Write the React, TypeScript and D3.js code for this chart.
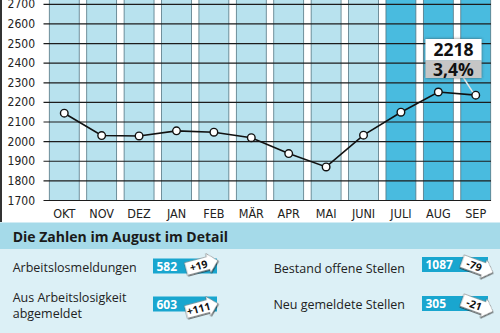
import React from "react";
import * as d3 from "d3";

const months = ["OKT", "NOV", "DEZ", "JAN", "FEB", "MÄR", "APR", "MAI", "JUNI", "JULI", "AUG", "SEP"];
const values = [2145, 2031, 2029, 2055, 2048, 2020, 1939, 1871, 2033, 2150, 2253, 2237];
const highlighted = ["JULI", "AUG", "SEP"];
const yTicks = [1700, 1800, 1900, 2000, 2100, 2200, 2300, 2400, 2500, 2600, 2700];

const calloutValue = "2218";
const calloutRate = "3,4%";

const detailTitle = "Die Zahlen im August im Detail";
const detailLabels = [["Arbeitslosmeldungen"], ["Aus Arbeitslosigkeit", "abgemeldet"], ["Bestand offene Stellen"], ["Neu gemeldete Stellen"]];
const detailValues = ["582", "603", "1087", "305"];
const detailChanges = ["+19", "+111", "-79", "-21"];

const condensed = "'Liberation Sans Narrow', 'DejaVu Sans Condensed', 'Open Sans', sans-serif";
const sans = "'Open Sans', 'Noto Sans', sans-serif";

export default function App() {
  const W = 500, H = 333;
  const y = d3.scaleLinear().domain([1700, 2700]).range([200.5, 4.3]);
  const x = d3.scaleBand<string>().domain(months).range([49.3, 490.7]).paddingInner(0.2).paddingOuter(0);
  const bw = x.bandwidth();
  const cx = (m: string) => (x(m) as number) + bw / 2;
  const line = d3.line<number>().x((_, i) => cx(months[i])).y((v) => y(v));

  const rows = [
    { lx: 12.7, anchor: "start", baselines: [271.5], box: [153, 258.5], boxW: 64, arrow: [186, 269], rot: -15 },
    { lx: 12.7, anchor: "start", baselines: [301.5, 317.5], box: [153, 296.5], boxW: 64, arrow: [186, 312], rot: -15 },
    { lx: 405, anchor: "end", baselines: [272.5], box: [422, 257], boxW: 66, arrow: [462, 261], rot: 20 },
    { lx: 405, anchor: "end", baselines: [308.5], box: [422, 296], boxW: 66, arrow: [462, 300], rot: 20 },
  ];

  const sep = months[months.length - 1];
  const sepX = cx(sep), sepY = y(values[values.length - 1]);

  return (
    <svg width={W} height={H} style={{ position: "absolute", left: 0, top: 0, background: "#fff" }}>
      <defs>
        <filter id="shadow" x="-20%" y="-20%" width="140%" height="140%">
          <feDropShadow dx="0" dy="0" stdDeviation="1.5" floodColor="#333" floodOpacity="0.7" />
        </filter>
        <filter id="ashadow" x="-20%" y="-30%" width="140%" height="160%">
          <feDropShadow dx="0.5" dy="1" stdDeviation="0.6" floodColor="#222" floodOpacity="0.8" />
        </filter>
      </defs>
      <rect x={0} y={0} width={W} height={H} fill="#fff" />
      {months.map((m) => (
        <rect
          key={m}
          x={x(m)}
          y={y(2740)}
          width={bw}
          height={y(1700) - y(2740)}
          fill={highlighted.includes(m) ? "#49bbdf" : "#b8e2ee"}
          stroke="#557784"
          strokeWidth={0.8}
        />
      ))}
      {yTicks.map((t) => (
        <line key={t} x1={43.5} x2={491} y1={y(t)} y2={y(t)} stroke="#1c1c1c" strokeWidth={1.2} />
      ))}
      {yTicks.map((t) => (
        <text key={"t" + t} x={35} y={y(t) + 4} textAnchor="end" fontFamily={condensed} fontSize={12} fill="#222">
          {t}
        </text>
      ))}
      {months.map((m) => (
        <text key={"m" + m} x={cx(m)} y={218} textAnchor="middle" fontFamily={condensed} fontSize={12.5} fill="#222">
          {m}
        </text>
      ))}
      <line x1={1} x2={1} y1={0} y2={222} stroke="#333" strokeWidth={2} />
      <path d={line(values) as string} fill="none" stroke="#111" strokeWidth={1.6} />
      {values.map((v, i) => (
        <circle key={i} cx={cx(months[i])} cy={y(v)} r={3.8} fill="#fff" stroke="#111" strokeWidth={1.4} />
      ))}
      <line x1={463} y1={77} x2={sepX - 3} y2={sepY - 3} stroke="#e8e8e8" strokeWidth={1.5} />
      <g filter="url(#shadow)">
        <rect x={425.5} y={39} width={56} height={21.5} fill="#fff" />
        <rect x={425.5} y={60.5} width={56} height={17.5} fill="#c6c6c6" />
      </g>
      <text x={453.5} y={55.5} textAnchor="middle" fontFamily={sans} fontWeight={700} fontSize={17.5} fill="#111">
        {calloutValue}
      </text>
      <text x={453.5} y={75.5} textAnchor="middle" fontFamily={sans} fontWeight={700} fontSize={17.5} fill="#111">
        {calloutRate}
      </text>
      <rect x={0} y={222.5} width={W} height={26.5} fill="#a5dae9" />
      <rect x={0} y={249} width={W} height={H - 249} fill="#dcf0f6" />
      <text x={12.7} y={242} fontFamily={sans} fontWeight={700} fontSize={14} fill="#1a1a1a">
        {detailTitle}
      </text>
      {rows.map((r, i) => (
        <g key={i}>
          {detailLabels[i].map((l, j) => (
            <text key={j} x={r.lx} y={r.baselines[j]} textAnchor={r.anchor} fontFamily={sans} fontSize={12.5} fill="#222">
              {l}
            </text>
          ))}
          <rect x={r.box[0]} y={r.box[1]} width={r.boxW} height={15} fill="#19a6cf" />
          <text x={r.box[0] + 3.5} y={r.box[1] + 12} fontFamily={sans} fontWeight={700} fontSize={12} fill="#fff">
            {detailValues[i]}
          </text>
          <g transform={`translate(${r.arrow[0]},${r.arrow[1]}) rotate(${r.rot})`}>
            <polygon
              points="0,-6.5 23,-6.5 23,-10 33,0 23,10 23,6.5 0,6.5"
              fill="#fff"
              stroke="#666"
              strokeWidth={0.5}
              filter="url(#ashadow)"
            />
            <text x={13} y={4} textAnchor="middle" fontFamily={sans} fontWeight={700} fontSize={10.5} fill="#111">
              {detailChanges[i]}
            </text>
          </g>
        </g>
      ))}
    </svg>
  );
}
